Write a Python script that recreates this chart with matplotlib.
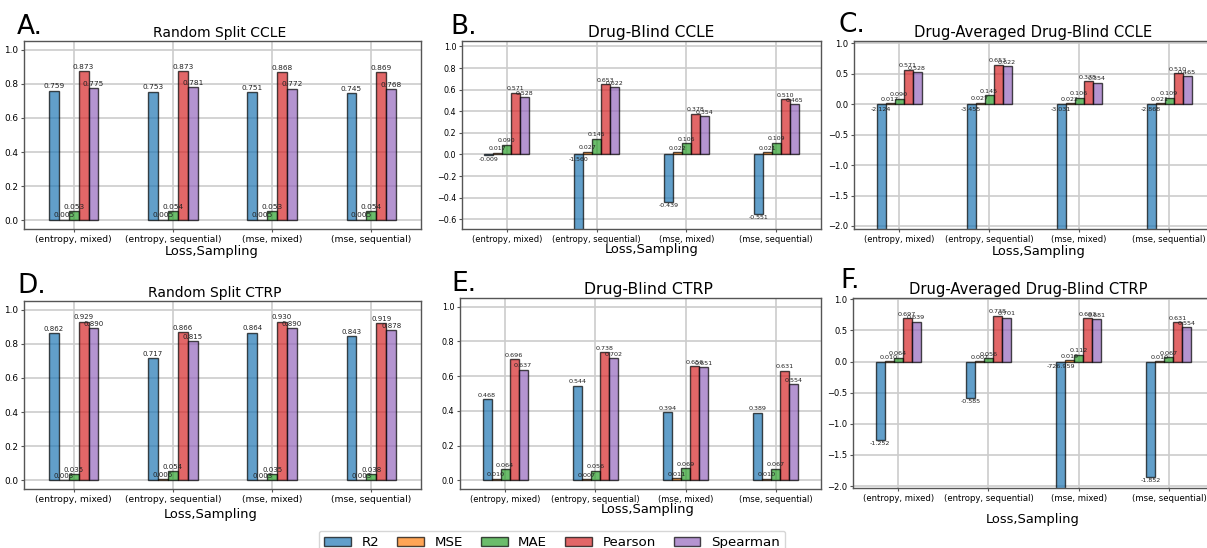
import matplotlib
matplotlib.use("Agg")
import matplotlib.pyplot as plt
import numpy as np

W, H = 1207, 548

groups = ["(entropy, mixed)", "(entropy, sequential)", "(mse, mixed)", "(mse, sequential)"]
metrics = ["R2", "MSE", "MAE", "Pearson", "Spearman"]
colors = ["#1f77b4", "#ff7f0e", "#2ca02c", "#d62728", "#9467bd"]

# Panel A: Random Split CCLE
a_r2 = [0.759, 0.753, 0.751, 0.745]
a_mse = [0.005, 0.005, 0.005, 0.005]
a_mae = [0.053, 0.054, 0.053, 0.054]
a_pearson = [0.873, 0.873, 0.868, 0.869]
a_spearman = [0.775, 0.781, 0.772, 0.768]

# Panel B: Drug-Blind CCLE
b_r2 = [-0.009, -1.560, -0.439, -0.551]
b_mse = [0.017, 0.027, 0.022, 0.021]
b_mae = [0.090, 0.145, 0.106, 0.109]
b_pearson = [0.571, 0.653, 0.378, 0.510]
b_spearman = [0.528, 0.622, 0.354, 0.465]

# Panel C: Drug-Averaged Drug-Blind CCLE
c_r2 = [-2.124, -3.455, -3.031, -2.868]
c_mse = [0.017, 0.027, 0.022, 0.021]
c_mae = [0.090, 0.145, 0.106, 0.109]
c_pearson = [0.571, 0.653, 0.378, 0.510]
c_spearman = [0.528, 0.622, 0.354, 0.465]

# Panel D: Random Split CTRP
d_r2 = [0.862, 0.717, 0.864, 0.843]
d_mse = [0.003, 0.006, 0.003, 0.003]
d_mae = [0.035, 0.054, 0.035, 0.038]
d_pearson = [0.929, 0.866, 0.930, 0.919]
d_spearman = [0.890, 0.815, 0.890, 0.878]

# Panel E: Drug-Blind CTRP
e_r2 = [0.468, 0.544, 0.394, 0.389]
e_mse = [0.010, 0.007, 0.011, 0.010]
e_mae = [0.064, 0.056, 0.069, 0.067]
e_pearson = [0.696, 0.738, 0.656, 0.631]
e_spearman = [0.637, 0.702, 0.651, 0.554]

# Panel F: Drug-Averaged Drug-Blind CTRP
f_r2 = [-1.252, -0.585, -726.959, -1.852]
f_mse = [0.010, 0.007, 0.019, 0.010]
f_mae = [0.064, 0.056, 0.112, 0.067]
f_pearson = [0.697, 0.738, 0.693, 0.631]
f_spearman = [0.639, 0.701, 0.681, 0.554]

panels = [
    dict(letter="A.", title="Random Split CCLE", data=[a_r2, a_mse, a_mae, a_pearson, a_spearman],
         box=(24, 41, 421, 229), ylim=(-0.05, 1.05), yticks=np.arange(0, 1.01, 0.2), tfs=10, tx=219.5,
         let=(17, 34), xl=(212, 245), lfs=5.3, xfs=6.6, yfs=6.4),
    dict(letter="B.", title="Drug-Blind CCLE", data=[b_r2, b_mse, b_mae, b_pearson, b_spearman],
         box=(462, 41, 821, 229), ylim=(-0.69, 1.05), yticks=np.arange(-0.6, 1.01, 0.2), tfs=11.1, tx=651.5,
         let=(450, 34), xl=(652, 243), lfs=4.5, xfs=6.0, yfs=5.8),
    dict(letter="C.", title="Drug-Averaged Drug-Blind CCLE", data=[c_r2, c_mse, c_mae, c_pearson, c_spearman],
         box=(854, 41, 1214, 229), ylim=(-2.05, 1.04), yticks=np.arange(-2.0, 1.01, 0.5), tfs=10.6, tx=1033,
         let=(839, 32), xl=(1039, 245), lfs=4.6, xfs=6.0, yfs=6.0),
    dict(letter="D.", title="Random Split CTRP", data=[d_r2, d_mse, d_mae, d_pearson, d_spearman],
         box=(24, 301, 421, 489), ylim=(-0.05, 1.05), yticks=np.arange(0, 1.01, 0.2), tfs=10, tx=215,
         let=(17, 293), xl=(211, 508), lfs=5.0, xfs=6.6, yfs=6.4),
    dict(letter="E.", title="Drug-Blind CTRP", data=[e_r2, e_mse, e_mae, e_pearson, e_spearman],
         box=(460, 298, 821, 489), ylim=(-0.05, 1.05), yticks=np.arange(0, 1.01, 0.2), tfs=11.3, tx=648,
         let=(451, 291), xl=(648, 503), lfs=4.6, xfs=6.0, yfs=5.8),
    dict(letter="F.", title="Drug-Averaged Drug-Blind CTRP", data=[f_r2, f_mse, f_mae, f_pearson, f_spearman],
         box=(853, 298, 1214, 488), ylim=(-2.03, 1.02), yticks=np.arange(-2.0, 1.01, 0.5), tfs=10.6, tx=1028.5,
         let=(840, 288), xl=(1033, 513), lfs=4.6, xfs=6.1, yfs=6.0),
]

fig = plt.figure(figsize=(W / 100, H / 100), dpi=100)

bar_w = 0.1
handles = None
for p in panels:
    l, t, r, b = p["box"]
    ax = fig.add_axes([l / W, 1 - b / H, (r - l) / W, (b - t) / H])
    ax.set_axisbelow(True)
    ax.grid(True, color="#cccccc", linewidth=1.2)
    x = np.arange(len(groups))
    hs = []
    ymin = p["ylim"][0]
    for j, (m, vals, c) in enumerate(zip(metrics, p["data"], colors)):
        xs = x + (j - 2) * bar_w
        bars = ax.bar(xs, vals, bar_w, color=c, alpha=0.7, edgecolor="black", linewidth=1.0, label=m)
        hs.append(bars)
        for xi, v in zip(xs, vals):
            if v >= 0:
                ax.annotate(f"{v:.3f}", (xi, v), xytext=(0, 1.0), textcoords="offset points",
                            ha="center", va="bottom", fontsize=p["lfs"], color="#222222")
            else:
                yy = v if v > ymin else 0
                off = -0.8 if v > ymin else -1.8
                ax.annotate(f"{v:.3f}", (xi, yy), xytext=(0, off), textcoords="offset points",
                            ha="center", va="top", fontsize=p["lfs"], color="#222222")
    if handles is None:
        handles = hs
    ax.set_xlim(-0.5, len(groups) - 0.5)
    ax.set_ylim(*p["ylim"])
    ax.set_xticks(x)
    ax.set_xticklabels(groups, rotation=0, fontsize=p["xfs"])
    ax.set_yticks(p["yticks"])
    ax.set_yticklabels([f"{v:.1f}".replace("-", "\u2212") if abs(v) > 1e-9 else "0.0" for v in p["yticks"]],
                       fontsize=p["yfs"])
    ax.tick_params(length=2.5, pad=1.5, color="#555555")
    for s in ax.spines.values():
        s.set_color("#555555")
        s.set_linewidth(1.0)
    ttl = ax.set_title(p["title"], fontsize=p["tfs"], pad=3)
    ttl.set_x((p["tx"] - l) / (r - l))
    ax.set_xlabel("Loss,Sampling", fontsize=9.4, va="top")
    xl_x, xl_y = p["xl"]
    ax.xaxis.set_label_coords((xl_x - l) / (r - l), (b - xl_y) / (b - t))
    lx, ly = p["let"]
    fig.text(lx / W, 1 - ly / H, p["letter"], fontsize=19, ha="left", va="baseline")

fig.legend(handles, metrics, loc="upper center", bbox_to_anchor=(552 / W, 1 - 524 / H), ncol=5,
           fontsize=9.6, columnspacing=1.35, handlelength=2.0, frameon=True)

fig.savefig("out.png", dpi=100)
